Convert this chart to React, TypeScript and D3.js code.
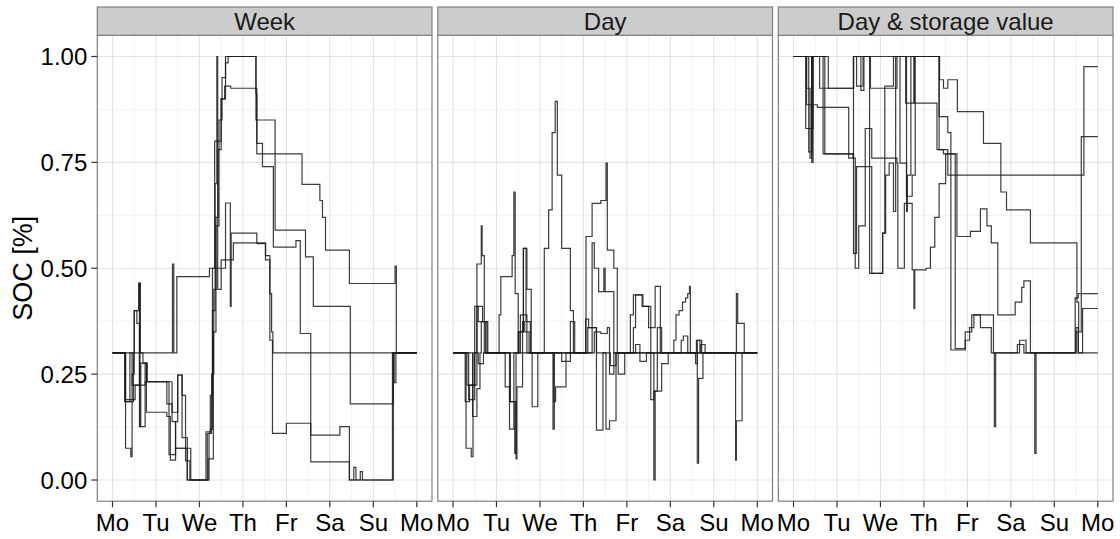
import React from 'react';
import * as d3 from 'd3';

const WIDTH = 1120;
const HEIGHT = 539;
const FONT = '"Liberation Sans", Arial, Helvetica, sans-serif';

const DAY_LABELS = ['Mo', 'Tu', 'We', 'Th', 'Fr', 'Sa', 'Su', 'Mo'];
const SOC_TICKS = [0, 0.25, 0.5, 0.75, 1];
const PANELS = ['Week', 'Day', 'Day & storage value'];

// [day since Monday 0:00, SOC] -- value holds until the next point
const weekA = [[0, 0.3], [0.3, 0.19], [0.52, 0.224], [0.75, 0.232], [1.37, 0.138], [1.45, 0.075], [1.72, 0.0], [2.18, 0.0], [2.22, 0.11], [2.28, 0.25], [2.33, 0.45], [2.38, 0.62], [2.43, 0.78], [2.5, 0.9], [2.6, 0.985], [2.66, 1.0], [3.3, 0.85], [3.74, 0.59], [4.44, 0.527], [4.62, 0.41], [5.47, 0.18], [6.46, 0.3], [7, 0.3]];
const weekB = [[0, 0.3], [0.29, 0.185], [0.48, 0.3], [0.5, 0.4], [0.56, 0.37], [0.62, 0.126], [0.65, 0.276], [0.78, 0.16], [1.25, 0.15], [1.33, 0.047], [1.45, 0.075], [1.8, 0.0], [2.12, 0.0], [2.2, 0.05], [2.32, 0.35], [2.38, 0.6], [2.45, 0.85], [2.52, 0.95], [2.6, 1.0], [3.3, 0.913], [3.32, 0.77], [4.36, 0.698], [4.77, 0.66], [4.83, 0.62], [4.9, 0.543], [5.45, 0.464], [6.5, 0.505], [6.53, 0.3], [7, 0.3]];
const weekC = [[0, 0.3], [0.3, 0.075], [0.42, 0.055], [0.45, 0.25], [0.5, 0.4], [0.6, 0.465], [0.63, 0.126], [0.75, 0.276], [0.8, 0.232], [1.1, 0.232], [1.25, 0.18], [1.37, 0.16], [1.5, 0.248], [1.6, 0.2], [1.68, 0.045], [1.78, 0.0], [2.1, 0.0], [2.18, 0.11], [2.25, 0.12], [2.3, 0.4], [2.36, 0.7], [2.4, 1.0], [2.42, 0.8], [2.5, 0.9], [2.58, 0.93], [2.72, 0.925], [3.32, 0.795], [3.45, 0.74], [3.7, 0.55], [4.22, 0.565], [4.32, 0.346], [4.56, 0.106], [5.23, 0.126], [5.45, 0.0], [5.55, 0.03], [5.6, 0.0], [5.7, 0.02], [5.75, 0.0], [6.46, 0.3], [7, 0.3]];
const weekD = [[0, 0.3], [0.28, 0.185], [0.4, 0.3], [0.45, 0.224], [0.62, 0.465], [0.64, 0.3], [0.7, 0.276], [0.78, 0.232], [1.3, 0.06], [1.45, 0.138], [1.5, 0.248], [1.6, 0.1], [1.72, 0.0], [2.0, 0.0], [2.15, 0.114], [2.25, 0.2], [2.3, 0.5], [2.35, 0.8], [2.42, 0.45], [2.5, 0.52], [2.78, 0.56], [3.33, 0.558], [3.52, 0.52], [3.62, 0.33], [3.68, 0.11], [4.0, 0.134], [4.56, 0.043], [5.45, 0.0], [6.44, 0.3], [6.48, 0.23], [6.52, 0.3], [7, 0.3]];
const weekE = [[0, 0.3], [1.38, 0.51], [1.41, 0.3], [1.48, 0.48], [2.23, 0.5], [2.6, 0.654], [2.71, 0.41], [2.73, 0.583], [3.32, 0.56], [3.52, 0.53], [3.62, 0.44], [3.66, 0.35], [3.69, 0.3], [7, 0.3]];

const dayA = [[0, 0.3], [0.3, 0.075], [0.42, 0.055], [0.46, 0.3], [0.55, 0.51], [0.65, 0.6], [0.67, 0.53], [0.72, 0.3], [1.02, 0.3], [1.06, 0.39], [1.1, 0.48], [1.36, 0.53], [1.4, 0.68], [1.43, 0.44], [1.5, 0.3], [2.06, 0.3], [2.1, 0.547], [2.2, 0.638], [2.28, 0.82], [2.35, 0.894], [2.4, 0.72], [2.5, 0.547], [2.7, 0.4], [2.77, 0.3], [3.04, 0.3], [3.06, 0.575], [3.2, 0.653], [3.4, 0.66], [3.52, 0.748], [3.55, 0.543], [3.7, 0.5], [3.78, 0.3], [5.08, 0.33], [5.13, 0.39], [5.2, 0.4], [5.28, 0.42], [5.35, 0.43], [5.4, 0.44], [5.44, 0.457], [5.46, 0.3], [7, 0.3]];
const dayB = [[0, 0.3], [0.28, 0.185], [0.38, 0.224], [0.55, 0.41], [0.68, 0.374], [0.8, 0.3], [1.3, 0.3], [1.32, 0.185], [1.42, 0.063], [1.45, 0.3], [1.5, 0.35], [1.62, 0.547], [1.7, 0.45], [1.8, 0.3], [1.82, 0.173], [1.95, 0.3], [2.3, 0.3], [2.32, 0.185], [2.36, 0.22], [2.6, 0.28], [2.7, 0.374], [2.8, 0.3], [3.18, 0.3], [3.2, 0.56], [3.25, 0.5], [3.35, 0.445], [3.47, 0.5], [3.5, 0.445], [3.7, 0.3], [4.05, 0.3], [4.08, 0.39], [4.15, 0.437], [4.37, 0.41], [4.5, 0.36], [4.65, 0.457], [4.77, 0.3], [5.5, 0.3], [5.6, 0.33], [5.68, 0.3], [6.5, 0.3], [6.52, 0.44], [6.55, 0.37], [6.7, 0.3], [7, 0.3]];
const dayC = [[0, 0.3], [0.45, 0.15], [0.55, 0.216], [0.62, 0.3], [0.65, 0.374], [0.75, 0.3], [1.28, 0.3], [1.3, 0.185], [1.45, 0.05], [1.47, 0.22], [1.6, 0.374], [1.65, 0.35], [1.75, 0.3], [2.28, 0.3], [2.3, 0.12], [2.33, 0.3], [2.5, 0.28], [2.6, 0.3], [3.0, 0.3], [3.1, 0.36], [3.3, 0.118], [3.45, 0.3], [3.52, 0.12], [3.6, 0.14], [3.75, 0.3], [3.8, 0.25], [3.95, 0.3], [4.6, 0.3], [4.62, 0.0], [4.65, 0.21], [4.8, 0.275], [4.95, 0.3], [5.6, 0.3], [5.62, 0.04], [5.65, 0.24], [5.75, 0.3], [6.48, 0.3], [6.5, 0.047], [6.52, 0.14], [6.65, 0.3], [7, 0.3]];
const dayD = [[0, 0.3], [0.32, 0.224], [0.5, 0.41], [0.58, 0.374], [0.78, 0.3], [1.52, 0.35], [1.62, 0.547], [1.68, 0.374], [1.78, 0.3], [3.2, 0.3], [3.25, 0.35], [3.4, 0.346], [3.55, 0.36], [3.6, 0.25], [3.7, 0.3], [4.1, 0.3], [4.15, 0.36], [4.2, 0.437], [4.35, 0.41], [4.55, 0.19], [4.62, 0.21], [4.7, 0.36], [4.8, 0.3], [5.55, 0.3], [5.58, 0.275], [5.62, 0.33], [5.72, 0.3], [7, 0.3]];
const dayE = [[0, 0.3], [0.36, 0.19], [0.5, 0.3], [0.58, 0.275], [0.7, 0.3], [1.18, 0.3], [1.2, 0.22], [1.3, 0.12], [1.4, 0.3], [1.55, 0.39], [1.7, 0.3], [3.02, 0.3], [3.05, 0.38], [3.12, 0.36], [3.3, 0.3], [3.6, 0.3], [3.62, 0.27], [3.75, 0.3], [4.2, 0.32], [4.3, 0.28], [4.45, 0.3], [5.22, 0.3], [5.25, 0.33], [5.3, 0.34], [5.4, 0.3], [5.7, 0.32], [5.8, 0.3], [7, 0.3]];

const dsvA = [[0, 1], [0.3, 0.886], [0.55, 0.88], [0.77, 0.88], [1.27, 0.76], [1.38, 1.0], [1.45, 0.93], [1.6, 1.0], [2.4, 1.0], [2.45, 0.748], [2.6, 0.634], [2.62, 0.72], [2.7, 1.0], [3.3, 1.0], [3.35, 0.78], [3.55, 0.72], [6.68, 0.976], [7, 0.976]];
const dsvB = [[0, 1], [0.35, 0.775], [0.42, 1.0], [0.6, 0.925], [1.38, 1.0], [1.77, 0.925], [2.38, 1.0], [2.58, 0.89], [2.77, 1.0], [3.33, 1.0], [3.36, 0.945], [3.45, 0.925], [3.55, 0.945], [3.77, 0.87], [4.37, 0.795], [4.77, 0.68], [4.9, 0.638], [5.45, 0.56], [6.52, 0.42], [6.56, 0.35], [6.62, 0.811], [7, 0.811]];
const dsvC = [[0, 1], [0.3, 0.925], [0.38, 0.76], [0.42, 1.0], [0.68, 0.77], [1.38, 0.535], [1.42, 0.5], [1.5, 0.6], [1.65, 0.83], [1.8, 0.76], [2.38, 0.748], [2.4, 0.5], [2.55, 0.653], [2.73, 0.496], [2.77, 0.405], [2.79, 0.496], [3.05, 0.5], [3.15, 0.55], [3.25, 0.62], [3.35, 0.7], [3.5, 0.77], [3.72, 0.31], [3.95, 0.33], [4.05, 0.36], [4.15, 0.39], [4.6, 0.3], [4.62, 0.126], [4.65, 0.3], [5.15, 0.32], [5.3, 0.3], [6.45, 0.3], [6.48, 0.43], [6.55, 0.44], [7, 0.44]];
const dsvD = [[0, 1], [0.28, 0.83], [0.45, 1.0], [0.72, 0.77], [1.37, 0.76], [1.42, 0.535], [1.45, 0.74], [1.8, 0.488], [2.05, 0.583], [2.12, 0.72], [2.2, 0.748], [2.3, 0.634], [2.35, 1.0], [2.78, 0.89], [3.3, 0.78], [3.45, 0.77], [3.76, 0.575], [4.07, 0.587], [4.3, 0.64], [4.45, 0.6], [4.55, 0.56], [4.7, 0.39], [5.1, 0.42], [5.25, 0.455], [5.3, 0.47], [5.45, 0.3], [5.55, 0.063], [5.58, 0.3], [6.45, 0.3], [6.5, 0.35], [6.55, 0.3], [6.65, 0.405], [7, 0.405]];
const dsvE = [[0, 1], [0.42, 0.75], [0.45, 1.0], [0.8, 0.925], [1.38, 1.0], [1.55, 0.92], [1.62, 1.0], [1.75, 0.488], [2.05, 0.583], [2.1, 0.93], [2.3, 1.0], [2.6, 0.67], [2.73, 0.72], [2.8, 1.0], [3.35, 0.858], [3.55, 0.82], [3.62, 0.307], [3.95, 0.35], [4.1, 0.39], [4.3, 0.36], [4.55, 0.3], [5.2, 0.33], [5.35, 0.3], [6.45, 0.3], [6.5, 0.36], [6.55, 0.3], [7, 0.3]];

const SERIES = [
  [weekA, weekB, weekC, weekD, weekE],
  [dayA, dayB, dayC, dayD, dayE],
  [dsvA, dsvB, dsvC, dsvD, dsvE],
];

const PANEL_LEFT = 97.3;
const PANEL_STEP = 340.5;
const PANEL_W = 334.7;
const PANEL_TOP = 35.3;
const PANEL_H = 465.9;
const STRIP_TOP = 7;

const x = d3.scaleLinear().domain([-0.35, 7.35]).range([0, PANEL_W]);
const y = d3.scaleLinear().domain([-0.05, 1.05]).range([PANEL_H, 0]);
const line = d3
  .line()
  .x(d => x(d[0]))
  .y(d => y(d[1]))
  .curve(d3.curveStepAfter);

const dayTicks = d3.range(DAY_LABELS.length);
const minorX = d3.range(0.5, 7, 1);
const minorY = [0.125, 0.375, 0.625, 0.875];

const Panel = ({ index }) => {
  const left = PANEL_LEFT + index * PANEL_STEP;
  return (
    <g transform={`translate(${left},${PANEL_TOP})`}>
      <rect width={PANEL_W} height={PANEL_H} fill="white" />
      {minorX.map(d => (
        <line key={`mx${d}`} x1={x(d)} x2={x(d)} y1={0} y2={PANEL_H} stroke="#f2f2f2" strokeWidth={1} />
      ))}
      {minorY.map(d => (
        <line key={`my${d}`} x1={0} x2={PANEL_W} y1={y(d)} y2={y(d)} stroke="#f2f2f2" strokeWidth={1} />
      ))}
      {dayTicks.map(d => (
        <line key={`gx${d}`} x1={x(d)} x2={x(d)} y1={0} y2={PANEL_H} stroke="#e3e3e3" strokeWidth={1.1} />
      ))}
      {SOC_TICKS.map(d => (
        <line key={`gy${d}`} x1={0} x2={PANEL_W} y1={y(d)} y2={y(d)} stroke="#e3e3e3" strokeWidth={1.1} />
      ))}
      {SERIES[index].map((s, i) => (
        <path key={i} d={line(s)} fill="none" stroke="#1a1a1a" strokeOpacity={0.85} strokeWidth={1.2} />
      ))}
      <rect width={PANEL_W} height={PANEL_H} fill="none" stroke="#7f7f7f" strokeWidth={1.2} />
      {/* strip */}
      <rect x={0} y={STRIP_TOP - PANEL_TOP} width={PANEL_W} height={PANEL_TOP - STRIP_TOP} fill="#cccccc" stroke="#7f7f7f" strokeWidth={1.2} />
      <text x={PANEL_W / 2} y={(STRIP_TOP - PANEL_TOP) / 2 + 8.5} textAnchor="middle" fontSize={24} fontFamily={FONT} fill="#1a1a1a">
        {PANELS[index]}
      </text>
      {/* x axis */}
      {dayTicks.map(d => (
        <g key={`xt${d}`} transform={`translate(${x(d)},${PANEL_H})`}>
          <line y1={0} y2={6} stroke="#333" strokeWidth={1.2} />
          <text y={29.5} textAnchor="middle" fontSize={24} fontFamily={FONT} fill="#000">
            {DAY_LABELS[d]}
          </text>
        </g>
      ))}
    </g>
  );
};

const App = () => (
  <svg width={WIDTH} height={HEIGHT} style={{ position: 'absolute', left: 0, top: 0, background: 'white' }}>
    {PANELS.map((p, i) => (
      <Panel key={p} index={i} />
    ))}
    <g transform={`translate(${PANEL_LEFT},${PANEL_TOP})`}>
      {SOC_TICKS.map(d => (
        <g key={d} transform={`translate(0,${y(d)})`}>
          <line x1={-6} x2={0} stroke="#333" strokeWidth={1.2} />
          <text x={-10} dy="0.36em" textAnchor="end" fontSize={24} fontFamily={FONT} fill="#000">
            {d.toFixed(2)}
          </text>
        </g>
      ))}
    </g>
    <text
      transform={`translate(32,${PANEL_TOP + PANEL_H / 2}) rotate(-90)`}
      textAnchor="middle"
      fontSize={27}
      fontFamily={FONT}
      fill="#000"
    >
      SOC [%]
    </text>
  </svg>
);

export default App;
